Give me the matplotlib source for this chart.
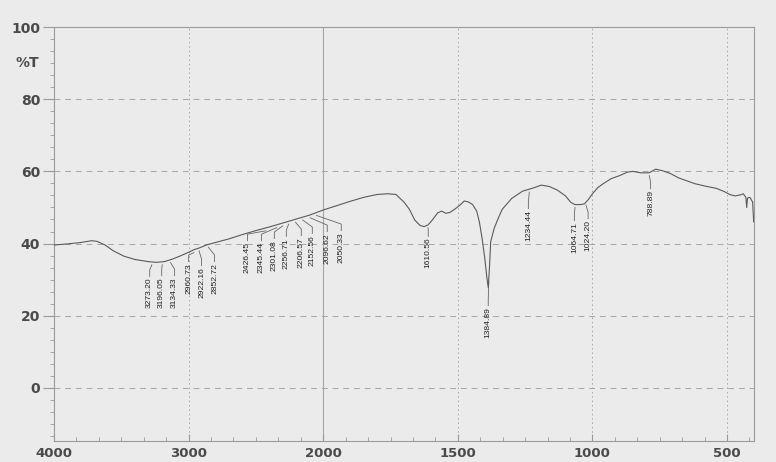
import numpy as np
import matplotlib
matplotlib.use("Agg")
from matplotlib import pyplot as plt
from matplotlib.ticker import FixedLocator, NullFormatter

# spectrum (wavenumber cm-1, %T)
wavenumber = [4000, 3900, 3800, 3720, 3680, 3620, 3560, 3480, 3400, 3300,
              3240, 3180, 3120, 3060, 3000, 2960, 2920, 2860, 2800, 2700,
              2600, 2500, 2400, 2300, 2200, 2100, 2000, 1950, 1900, 1850,
              1800, 1760, 1730, 1700, 1680, 1660, 1640, 1625, 1610, 1595,
              1575, 1560, 1545, 1530, 1510, 1490, 1476, 1460, 1445, 1430,
              1420, 1410, 1400, 1392, 1387, 1382, 1378, 1365, 1350, 1335,
              1300, 1260, 1220, 1190, 1160, 1130, 1100, 1080, 1065, 1045,
              1030, 1015, 1000, 980, 960, 930, 900, 870, 850, 820,
              790, 765, 740, 710, 680, 650, 620, 580, 540, 510,
              490, 470, 450, 440, 430, 427, 424, 415, 405, 401, 400]
transmittance = [39.6, 39.9, 40.3, 40.8, 40.6, 39.6, 38.0, 36.5, 35.6, 35.0,
                 34.8, 35.0, 35.7, 36.6, 37.6, 38.3, 38.8, 39.7, 40.3, 41.3,
                 42.5, 43.6, 44.6, 45.7, 46.8, 47.9, 49.3, 50.5, 51.7, 52.8,
                 53.6, 53.8, 53.6, 51.5, 49.5, 46.5, 45.0, 44.7, 45.2, 46.5,
                 48.5, 49.0, 48.4, 48.6, 49.6, 50.8, 51.8, 51.5, 50.8, 49.0,
                 46.0, 41.5, 36.0, 30.5, 27.8, 34.0, 40.5, 44.2, 47.0, 49.5,
                 52.5, 54.5, 55.4, 56.2, 55.8, 54.8, 53.2, 51.4, 50.8, 50.8,
                 51.0, 52.2, 53.8, 55.5, 56.6, 58.0, 58.8, 59.8, 60.0, 59.6,
                 59.6, 60.6, 60.2, 59.4, 58.2, 57.4, 56.6, 55.9, 55.3, 54.4,
                 53.6, 53.2, 53.5, 53.8, 52.8, 50.0, 52.6, 52.8, 51.5, 46.0, 46.0]

peaks = [3273.20, 3196.05, 3134.33, 2960.73, 2922.16, 2852.72,
         2426.45, 2345.44, 2301.08, 2256.71, 2206.57, 2152.56, 2096.62, 2050.33,
         1610.56, 1384.89, 1234.44, 1064.71, 1024.20, 788.89]

# where each peak label sits (wavenumber, %T of the text top)
label_x = [3289, 3200, 3104, 3000, 2904, 2807,
           2563, 2459, 2363, 2274, 2163, 2081, 1985, 1933,
           1610, 1387, 1238, 1067, 1016, 784]
label_top = [30.5, 30.7, 30.7, 34.6, 33.5, 34.6,
             40.4, 40.4, 41.0, 41.6, 41.8, 42.4, 42.9, 43.2,
             41.6, 22.4, 49.3, 46.0, 46.5, 54.8]


def fwd(x):
    x = np.asarray(x, dtype=float)
    return np.where(x > 2000, 2000 + (x - 2000) / 2, x)


def inv(u):
    u = np.asarray(u, dtype=float)
    return np.where(u > 2000, 2000 + (u - 2000) * 2, u)


bg = "#ebebeb"
ink = "#4a4a4a"
fig = plt.figure(figsize=(7.76, 4.62), dpi=100, facecolor=bg)
ax = fig.add_axes([0.0696, 0.0455, 0.902, 0.896], facecolor=bg)
ax.set_xscale("function", functions=(fwd, inv))
ax.set_xlim(4000, 400)
ax.set_ylim(-14.7, 100)

# grid
for y in [0, 20, 40, 60, 80]:
    ax.axhline(y, color="#a5a5a5", lw=0.7, ls=(0, (6, 5)), zorder=1)
for x in [3000, 1500, 1000, 500]:
    ax.axvline(x, color="#a5a5a5", lw=0.7, ls=(0, (1.5, 3)), zorder=1)
ax.axvline(2000, color="#a5a5a5", lw=0.8, zorder=1)

ax.plot(wavenumber, transmittance, color="#5a5a5a", lw=0.8, zorder=3)

# peak labels with leader lines
wn_rev = np.array(wavenumber[::-1], dtype=float)
t_rev = np.array(transmittance[::-1], dtype=float)
for p, lx, lt in zip(peaks, label_x, label_top):
    yc = np.interp(p, wn_rev, t_rev)
    ax.plot([p, lx, lx], [yc - 0.8, lt + 2.2, lt + 0.4],
            color="#666666", lw=0.6, zorder=2)
    ax.text(lx, lt, f"{p:.2f}", rotation=90, ha="center", va="top",
            fontsize=6.1, color="#222222", family="Liberation Sans")

# ticks
ax.set_xticks([4000, 3000, 2000, 1500, 1000, 500])
ax.set_xticklabels(["4000", "3000", "2000", "1500", "1000", "500"])
minor_x = np.concatenate([np.arange(4000, 2000, -1000 / 6),
                          np.arange(2000, 400, -500 / 6)])
ax.xaxis.set_minor_locator(FixedLocator(minor_x))
ax.xaxis.set_minor_formatter(NullFormatter())
ax.set_yticks([0, 20, 40, 60, 80, 100])
ax.yaxis.set_minor_locator(FixedLocator(np.arange(-13.33, 100, 20 / 6)))
ax.tick_params(axis="x", which="major", direction="in", length=5,
               pad=4, labelsize=9.5, colors="#999999", labelcolor=ink)
ax.tick_params(axis="x", which="minor", direction="in", length=3,
               colors="#999999")
ax.tick_params(axis="y", which="major", direction="out", length=8,
               pad=2, labelsize=10, colors="#999999", labelcolor=ink)
ax.tick_params(axis="y", which="minor", direction="out", length=3,
               colors="#999999")
for lbl in ax.get_xticklabels() + ax.get_yticklabels():
    lbl.set_fontweight("bold")

ax.text(-0.055, 90, "%T", transform=ax.get_yaxis_transform(),
        ha="left", va="center", fontsize=10, fontweight="bold", color=ink)

for side in ["left", "bottom", "top", "right"]:
    ax.spines[side].set_color("#9a9a9a")
    ax.spines[side].set_linewidth(0.8)

plt.savefig("out.png", dpi=100, facecolor=bg)
